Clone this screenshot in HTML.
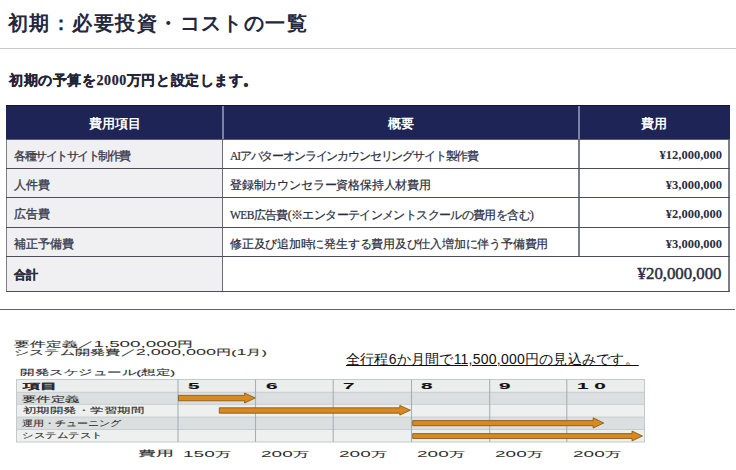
<!DOCTYPE html>
<html lang="ja">
<head>
<meta charset="utf-8">
<style>
html,body{margin:0;padding:0;}
body{width:736px;height:470px;position:relative;overflow:hidden;background:#fff;font-family:"Liberation Sans",sans-serif;}
.a{position:absolute;white-space:nowrap;}
#title{left:8px;top:9.5px;font-size:20px;letter-spacing:1.45px;line-height:26px;color:#232840;font-weight:bold;}
#hr1{left:0;top:48px;width:736px;height:1px;background:#c9c9c9;}
#sub{left:9px;top:72px;font-size:14px;letter-spacing:0.58px;line-height:18px;font-weight:bold;color:#1f2438;-webkit-text-stroke:0.25px #1f2438;font-family:"Liberation Serif",serif;}
/* table */
.cell{position:absolute;box-sizing:border-box;}
.hd{background:#1e2456;color:#fff;font-weight:bold;font-size:13px;font-family:"Liberation Serif",serif;text-align:center;line-height:38px;}
.b{color:#2a2e40;font-size:11.5px;}
.mid{font-family:'Liberation Serif',serif;-webkit-text-stroke:0.2px #2a2e40;}
.l{background:#f0f0f2;}
.m{background:#fff;}
.r{background:#fff;text-align:right;font-family:"Liberation Serif",serif;font-weight:bold;font-size:12.5px;}
.hl{position:absolute;background:#5b5d68;}
#hr2{left:0;top:309px;width:735px;height:1px;background:#6f6068;}
/* chart */
.t9{font-size:8px;font-weight:normal;color:#2e2e2e;-webkit-text-stroke:0.12px #2e2e2e;line-height:12px;transform-origin:0 0;}
.dg{font-size:9.5px;-webkit-text-stroke:0;}
.mo{top:379.5px;font-size:9px;font-weight:bold;color:#111;transform:scaleX(2.3);}
.co{top:448px;transform:scaleX(2.0);}
.g{position:absolute;}
</style>
</head>
<body>
<div class="a" id="title">初期：必要投資・コストの一覧</div>
<div class="a" id="hr1"></div>
<div class="a" id="sub">初期の予算を2000万円と設定します。</div>

<!-- header -->
<div class="cell hd" style="left:5.5px;top:105px;width:724.2px;height:34px;"></div>
<div class="cell hd" style="left:6px;top:105px;width:217px;height:34px;">費用項目</div>
<div class="cell hd" style="left:223px;top:105px;width:356px;height:34px;">概要</div>
<div class="cell hd" style="left:579px;top:105px;width:150px;height:34px;">費用</div>
<div class="hl" style="left:222.1px;top:105px;width:1.6px;height:34px;background:#7c82a2;"></div>
<div class="hl" style="left:578.2px;top:105px;width:1.6px;height:34px;background:#7c82a2;"></div>

<!-- body backgrounds -->
<div class="cell l" style="left:6px;top:139px;width:217px;height:152px;"></div>

<!-- row text -->
<div class="a b" style="left:14px;top:149px;font-weight:normal;-webkit-text-stroke:0.35px #3a3d4e;color:#3a3d4e;letter-spacing:-1.5px;">各種サイトサイト制作費</div>
<div class="a b" style="left:14px;top:178px;font-weight:normal;-webkit-text-stroke:0.35px #3a3d4e;color:#3a3d4e;">人件費</div>
<div class="a b" style="left:14px;top:207px;font-weight:normal;-webkit-text-stroke:0.35px #3a3d4e;color:#3a3d4e;">広告費</div>
<div class="a b" style="left:14px;top:237px;font-weight:normal;-webkit-text-stroke:0.35px #3a3d4e;color:#3a3d4e;">補正予備費</div>
<div class="a b" style="left:14px;top:267px;font-weight:bold;font-size:12px;-webkit-text-stroke:0.3px #2a2e40;">合計</div>

<div class="a b mid" style="left:230px;top:149px;letter-spacing:-1.17px;">AIアバターオンラインカウンセリングサイト製作費</div>
<div class="a b mid" style="left:230px;top:178px;letter-spacing:-0.18px;">登録制カウンセラー資格保持人材費用</div>
<div class="a b mid" style="left:230px;top:208px;letter-spacing:-0.62px;">WEB広告費(※エンターテインメントスクールの費用を含む)</div>
<div class="a b mid" style="left:230px;top:237px;letter-spacing:-0.22px;">修正及び追加時に発生する費用及び仕入増加に伴う予備費用</div>

<div class="a b r" style="right:14px;top:148px;">¥12,000,000</div>
<div class="a b r" style="right:14px;top:178px;">¥3,000,000</div>
<div class="a b r" style="right:14px;top:207px;">¥2,000,000</div>
<div class="a b r" style="right:14px;top:237px;">¥3,000,000</div>
<div class="a b r" style="right:14.5px;top:263.8px;font-size:16.8px;font-weight:normal;-webkit-text-stroke:0.5px #2a2e40;">¥20,000,000</div>

<!-- grid lines -->
<div class="hl" style="left:5.5px;top:139px;width:1.5px;height:152.5px;background:#7c7e88;"></div>
<div class="hl" style="left:728.2px;top:139px;width:1.5px;height:152.5px;background:#7c7e88;"></div>
<div class="hl" style="left:222.2px;top:139px;width:1.2px;height:152px;background:#6a6c76;"></div>
<div class="hl" style="left:578.3px;top:139px;width:1.5px;height:118px;background:#7c7e88;"></div>
<div class="hl" style="left:5.5px;top:104.5px;width:724.2px;height:1px;background:#111530;"></div>
<div class="hl" style="left:5.5px;top:138.5px;width:724.2px;height:1px;background:#5a5e72;"></div>
<div class="hl" style="left:5.5px;top:167.6px;width:724.2px;height:1.2px;background:#4b4e5a;"></div>
<div class="hl" style="left:5.5px;top:197.2px;width:724.2px;height:1.2px;background:#4b4e5a;"></div>
<div class="hl" style="left:5.5px;top:226.6px;width:724.2px;height:1.2px;background:#4b4e5a;"></div>
<div class="hl" style="left:5.5px;top:256.1px;width:724.2px;height:1.2px;background:#4b4e5a;"></div>
<div class="hl" style="left:5.5px;top:290.6px;width:724.2px;height:1.2px;background:#4b4e5a;"></div>

<div class="a" id="hr2"></div>

<!-- bottom chart -->
<svg class="a" style="left:0;top:370px;" width="736" height="80" viewBox="0 370 736 80">
<rect x="16.5" y="379.5" width="628" height="12.8" fill="#eceeee"/>
<rect x="16.5" y="392.3" width="628" height="12" fill="#dcdfdf"/>
<rect x="16.5" y="404.3" width="628" height="12.8" fill="#eef0f0"/>
<rect x="16.5" y="417.1" width="628" height="12.4" fill="#dcdfdf"/>
<rect x="16.5" y="429.5" width="628" height="12.5" fill="#eef0f0"/>
<g stroke="#c6cdcf" stroke-width="1">
<line x1="16.5" y1="392.3" x2="644.5" y2="392.3"/>
<line x1="16.5" y1="404.3" x2="644.5" y2="404.3"/>
<line x1="16.5" y1="417.1" x2="644.5" y2="417.1"/>
<line x1="16.5" y1="429.5" x2="644.5" y2="429.5"/>
</g>
<rect x="16.5" y="379.5" width="628" height="62.5" fill="none" stroke="#c4cacc" stroke-width="1"/>
<g stroke="#a6b1b4" stroke-width="1.1">
<line x1="178" y1="379.5" x2="178" y2="442"/>
<line x1="255.5" y1="379.5" x2="255.5" y2="442"/>
<line x1="333.2" y1="379.5" x2="333.2" y2="442"/>
<line x1="411.5" y1="379.5" x2="411.5" y2="442"/>
<line x1="489.7" y1="379.5" x2="489.7" y2="442"/>
<line x1="566.8" y1="379.5" x2="566.8" y2="442"/>
</g>
<g fill="#d8891f" stroke="#7e5214" stroke-width="0.8">
<path d="M178.5 395.4 H244.6 V393 L255.2 398 L244.6 403 V400.8 H178.5 Z"/>
<path d="M219.3 407.8 H399.8 V405.4 L410.4 410.2 L399.8 415.1 V413.2 H219.3 Z"/>
<path d="M412.7 420.6 H593.2 V417.8 L603.7 423 L593.2 428 V425.7 H412.7 Z"/>
<path d="M412.7 433.6 H632 V431 L642.5 436 L632 440.9 V438.5 H412.7 Z"/>
</g>
</svg>
<div class="a t9" style="left:14px;top:338px;transform:scaleX(1.985);">要件定義／<span class="dg">1,500,000</span>円</div>
<div class="a t9" style="left:14px;top:345.5px;transform:scaleX(1.902);">システム開発費／<span class="dg">2,000,000</span>円(<span class="dg">1</span>月)</div>
<div class="a" style="left:346px;top:351px;font-size:14px;letter-spacing:0.23px;line-height:16px;color:#111;text-decoration:underline;">全行程6か月間で11,500,000円の見込みです。</div>
<div class="a t9" style="left:19.5px;top:367px;transform:scaleX(1.818);">開発スケジュール(想定)</div>
<div class="a t9" style="left:23px;top:380.5px;transform:scaleX(2.15);font-weight:bold;color:#111;">項目</div>
<div class="a t9" style="left:22px;top:393.5px;transform:scaleX(1.81);">要件定義</div>
<div class="a t9" style="left:23px;top:405px;transform:scaleX(1.683);">初期開発・学習期間</div>
<div class="a t9" style="left:21.5px;top:417.5px;transform:scaleX(1.38);">運用・チューニング</div>
<div class="a t9" style="left:21.5px;top:430px;transform:scaleX(1.44);">システムテスト</div>
<div class="a t9 mo" style="left:188px;">5</div>
<div class="a t9 mo" style="left:265.5px;">6</div>
<div class="a t9 mo" style="left:343px;">7</div>
<div class="a t9 mo" style="left:420.5px;">8</div>
<div class="a t9 mo" style="left:499px;">9</div>
<div class="a t9 mo" style="left:577px;">1 0</div>
<div class="a t9 co" style="left:137.5px;transform:scaleX(2.23);">費用</div>
<div class="a t9 co" style="left:183px;"><span class="dg">150</span>万</div>
<div class="a t9 co" style="left:260.5px;"><span class="dg">200</span>万</div>
<div class="a t9 co" style="left:338.5px;"><span class="dg">200</span>万</div>
<div class="a t9 co" style="left:416.5px;"><span class="dg">200</span>万</div>
<div class="a t9 co" style="left:494.5px;"><span class="dg">200</span>万</div>
<div class="a t9 co" style="left:572.5px;"><span class="dg">200</span>万</div>
</body>
</html>
